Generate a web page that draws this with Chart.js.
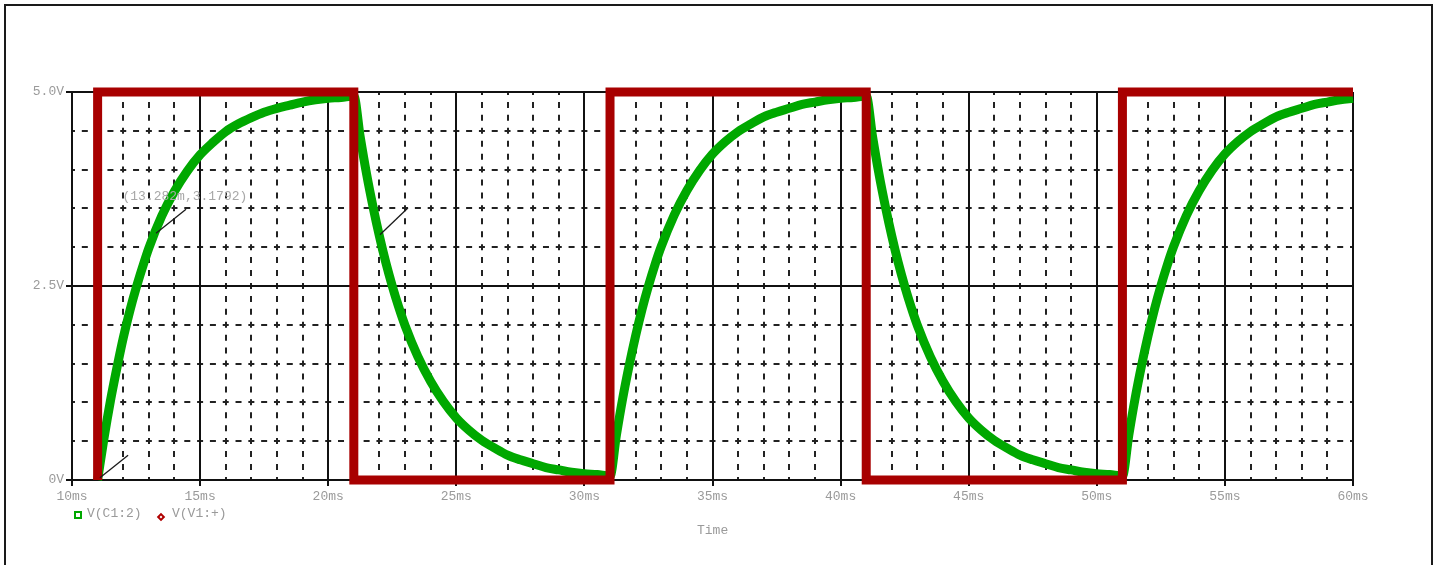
<!DOCTYPE html>
<html><head><meta charset="utf-8">
<script src="https://cdn.jsdelivr.net/npm/chart.js@4.4.1/dist/chart.umd.min.js"></script>
<style>
html,body{margin:0;padding:0;background:#fff;}
#wrap{position:relative;width:1437px;height:565px;overflow:hidden;background:#fff;}
#frame{position:absolute;left:4px;top:4px;width:1429px;height:620px;border:2px solid #1a1a1a;box-sizing:border-box;}
canvas{position:absolute;left:0;top:0;}
.t{position:absolute;font-family:"Liberation Mono",monospace;font-size:13px;line-height:14px;color:#9a9a9a;white-space:nowrap;}
.sq{position:absolute;left:74px;top:511px;width:8px;height:8px;border:2px solid #00a800;box-sizing:border-box;}
.dm{position:absolute;left:158px;top:514px;width:6px;height:6px;border:2px solid #b00000;box-sizing:border-box;transform:rotate(45deg);}
</style></head>
<body>
<div id="wrap">
<div id="frame"></div>
<canvas id="c" width="1437" height="565"></canvas>
<div class="sq"></div><div class="t" style="left:87px;top:507px">V(C1:2)</div>
<div class="dm"></div><div class="t" style="left:172px;top:507px">V(V1:+)</div>
<div class="t" style="left:697px;top:524px">Time</div>
</div>
<script>
// ---- data ----
const redT = [11, 11, 21, 21, 31, 31, 41, 41, 51, 51, 60];
const redV = [0, 5, 5, 0, 0, 5, 5, 0, 0, 5, 5];

const greenT = [
  11, 11.25, 11.5, 11.75, 12, 12.25, 12.5, 12.75, 13, 13.5, 14, 14.5, 15, 15.5, 16, 16.5, 17, 17.5, 18, 18.5, 19, 19.5, 20, 20.5,
  21, 21.25, 21.5, 21.75, 22, 22.25, 22.5, 22.75, 23, 23.5, 24, 24.5, 25, 25.5, 26, 26.5, 27, 27.5, 28, 28.5, 29, 29.5, 30, 30.5,
  31, 31.25, 31.5, 31.75, 32, 32.25, 32.5, 32.75, 33, 33.5, 34, 34.5, 35, 35.5, 36, 36.5, 37, 37.5, 38, 38.5, 39, 39.5, 40, 40.5,
  41, 41.25, 41.5, 41.75, 42, 42.25, 42.5, 42.75, 43, 43.5, 44, 44.5, 45, 45.5, 46, 46.5, 47, 47.5, 48, 48.5, 49, 49.5, 50, 50.5,
  51, 51.25, 51.5, 51.75, 52, 52.25, 52.5, 52.75, 53, 53.5, 54, 54.5, 55, 55.5, 56, 56.5, 57, 57.5, 58, 58.5, 59, 59.5, 60
];
const greenV = [
  0, 0.54, 1.02, 1.44, 1.83, 2.17, 2.47, 2.74, 2.99, 3.40, 3.72, 3.98, 4.19, 4.35, 4.49, 4.59, 4.67, 4.74, 4.79, 4.83, 4.87, 4.90, 4.92, 4.93,
  4.95, 4.42, 3.94, 3.52, 3.14, 2.80, 2.50, 2.23, 1.99, 1.59, 1.27, 1.01, 0.80, 0.64, 0.51, 0.41, 0.32, 0.26, 0.21, 0.16, 0.13, 0.10, 0.08, 0.07,
  0.05, 0.58, 1.06, 1.48, 1.86, 2.20, 2.50, 2.77, 3.01, 3.41, 3.73, 3.99, 4.20, 4.36, 4.49, 4.59, 4.68, 4.74, 4.79, 4.84, 4.87, 4.90, 4.92, 4.93,
  4.95, 4.42, 3.94, 3.52, 3.14, 2.80, 2.50, 2.23, 1.99, 1.59, 1.27, 1.01, 0.80, 0.64, 0.51, 0.41, 0.32, 0.26, 0.21, 0.16, 0.13, 0.10, 0.08, 0.07,
  0.05, 0.58, 1.06, 1.48, 1.86, 2.20, 2.50, 2.77, 3.01, 3.41, 3.73, 3.99, 4.20, 4.36, 4.49, 4.59, 4.68, 4.74, 4.79, 4.84, 4.87, 4.90, 4.92
];

const xMajorTicks = [10, 15, 20, 25, 30, 35, 40, 45, 50, 55, 60];
const xTickLabels = ['10ms','15ms','20ms','25ms','30ms','35ms','40ms','45ms','50ms','55ms','60ms'];
const yMajorTicks = [0, 2.5, 5];
const yTickLabels = ['0V', '2.5V', '5.0V'];

const annoFromT = [13.28, 22.02, 11.09];
const annoFromV = [3.18, 3.16, 0.03];
const annoToT   = [14.45, 23.11, 12.19];
const annoToV   = [3.49, 3.505, 0.32];
const annoLabel = '(13.282m,3.1792)';
const annoLabelT = 11.97;
const annoLabelV = 3.65;

// ---- chart ----
const MONO = '"Liberation Mono", "DejaVu Sans Mono", monospace';
const annoPlugin = {
  id: 'anno',
  afterDatasetsDraw(chart) {
    const {ctx} = chart;
    const x = chart.scales.x, y = chart.scales.y;
    ctx.save();
    ctx.strokeStyle = '#1a1a1a';
    ctx.lineWidth = 1.3;
    for (let i = 0; i < annoFromT.length; i++) {
      ctx.beginPath();
      ctx.moveTo(x.getPixelForValue(annoFromT[i]), y.getPixelForValue(annoFromV[i]));
      ctx.lineTo(x.getPixelForValue(annoToT[i]), y.getPixelForValue(annoToV[i]));
      ctx.stroke();
    }
    ctx.font = '13px ' + MONO;
    ctx.fillStyle = '#a8a8a8';
    ctx.textBaseline = 'middle';
    ctx.textAlign = 'left';
    ctx.fillText(annoLabel, x.getPixelForValue(annoLabelT), y.getPixelForValue(annoLabelV));
    ctx.restore();
  }
};

new Chart(document.getElementById('c'), {
  type: 'line',
  data: {
    datasets: [
      {
        label: 'V(V1:+)',
        data: redT.map((t, i) => ({x: t, y: redV[i]})),
        borderColor: '#a80000',
        borderWidth: 9,
        pointRadius: 0,
        tension: 0,
        borderJoinStyle: 'miter',
        borderCapStyle: 'butt',
        clip: false,
        order: 0
      },
      {
        label: 'V(C1:2)',
        data: greenT.map((t, i) => ({x: t, y: greenV[i]})),
        borderColor: '#00a800',
        borderWidth: 9,
        pointRadius: 0,
        cubicInterpolationMode: 'monotone',
        borderCapStyle: 'butt',
        clip: false,
        order: 1
      }
    ]
  },
  options: {
    responsive: false,
    animation: false,
    devicePixelRatio: 1,
    layout: {padding: {left: 0, top: 92, right: 84, bottom: 0}},
    plugins: {legend: {display: false}, tooltip: {enabled: false}},
    scales: {
      xm: {
        type: 'linear', position: 'top', min: 10, max: 60,
        ticks: {display: false, stepSize: 1},
        grid: {drawTicks: false, color: '#222', lineWidth: 2},
        border: {display: false, dash: [6, 6.93], dashOffset: 3},
        afterFit(s) { s.height = 0; }
      },
      ym: {
        type: 'linear', position: 'right', min: 0, max: 5,
        ticks: {display: false, stepSize: 0.5},
        grid: {drawTicks: false, color: '#222', lineWidth: 2},
        border: {display: false, dash: [6, 6.81], dashOffset: 3},
        afterFit(s) { s.width = 0; }
      },
      x: {
        type: 'linear', position: 'bottom', min: 10, max: 60,
        afterBuildTicks(s) { s.ticks = xMajorTicks.map(v => ({value: v})); },
        ticks: {
          autoSkip: false, maxRotation: 0, padding: 3,
          color: '#9a9a9a', font: {family: MONO, size: 13},
          callback: (v) => xTickLabels[xMajorTicks.indexOf(v)]
        },
        grid: {color: '#111', lineWidth: 2, tickLength: 6, tickColor: '#111', tickWidth: 2},
        border: {display: true, color: '#111', width: 2},
        afterFit(s) { s.height = 85; }
      },
      y: {
        type: 'linear', position: 'left', min: 0, max: 5,
        afterBuildTicks(s) { s.ticks = yMajorTicks.map(v => ({value: v})); },
        ticks: {
          autoSkip: false, padding: 2,
          color: '#9a9a9a', font: {family: MONO, size: 13},
          callback: (v) => yTickLabels[yMajorTicks.indexOf(v)]
        },
        grid: {color: '#111', lineWidth: 2, tickLength: 6, tickColor: '#111', tickWidth: 2},
        border: {display: true, color: '#111', width: 2},
        afterFit(s) { s.width = 72; }
      }
    }
  },
  plugins: [annoPlugin]
});
</script>
</body></html>
